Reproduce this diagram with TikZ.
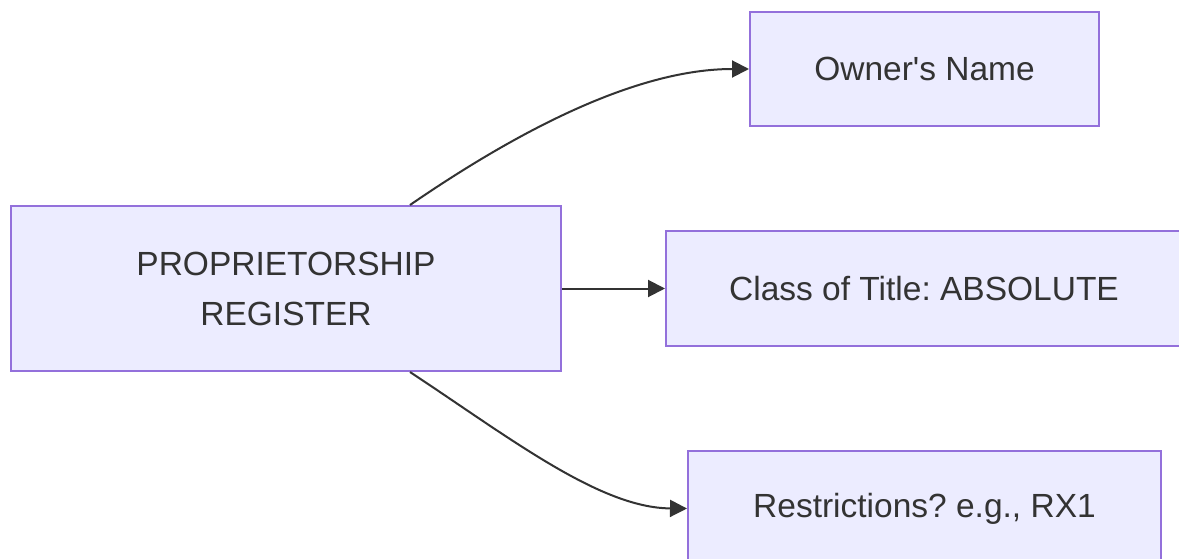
\documentclass[tikz,border=0pt]{standalone}
\usepackage{fontspec}
\setmainfont{Liberation Sans}
\usetikzlibrary{arrows.meta}
\definecolor{nodefill}{HTML}{ECECFF}
\definecolor{nodeline}{HTML}{9370DB}
\definecolor{ink}{HTML}{333333}
\frenchspacing
\begin{document}
\begin{tikzpicture}[x=1pt,y=-1pt,
  box/.style={draw=nodeline, fill=nodefill, line width=2pt, inner sep=0pt,
    text=ink, font=\fontsize{33.5}{50}\selectfont, align=center},
  edge/.style={draw=ink, line width=2pt, -{Triangle[length=17pt,width=17pt]}}]
\clip (0,0) rectangle (1179,559);
\fill[white] (0,0) rectangle (1179,559);
\node[box, minimum width=550pt, minimum height=165pt] (reg) at (286,288.5) {PROPRIETORSHIP\\REGISTER};
\node[box, minimum width=349pt, minimum height=114pt] (owner) at (924.5,69) {Owner\textquotesingle s Name};
\node[box, minimum width=516pt, minimum height=115pt] (class) at (924,288.5) {Class of Title: ABSOLUTE};
\node[box, minimum width=473pt, minimum height=115pt] (restr) at (924.5,508.5) {Restrictions? e.g., RX1};
\draw[edge] ([xshift=124pt]reg.north) .. controls (525,126) and (640,69) .. (owner.west);
\draw[edge] (reg.east) -- (class.west);
\draw[edge] ([xshift=124pt]reg.south) .. controls (510,438) and (600,508) .. (restr.west);
\end{tikzpicture}
\end{document}
